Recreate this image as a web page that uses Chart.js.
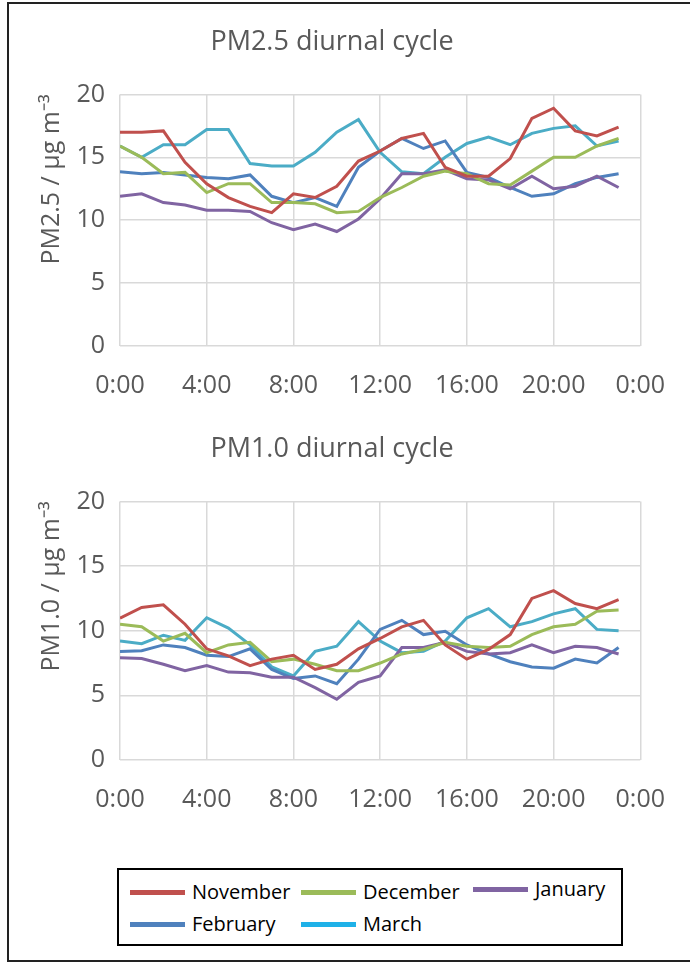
<!DOCTYPE html>
<html><head><meta charset="utf-8">
<script src="https://cdn.jsdelivr.net/npm/chart.js@4.4.1/dist/chart.umd.min.js"></script>
<style>
body{margin:0;background:#fff;width:690px;height:965px;overflow:hidden;position:relative;}
#frame{position:absolute;left:7px;top:2px;width:700px;height:960px;border:2px solid #222;box-sizing:border-box;}
canvas{position:absolute;left:0;}
#c1{top:0}
#c2{top:410px}
#legend{position:absolute;left:117px;top:868px;width:506px;height:78px;border:2px solid #000;box-sizing:border-box;font-family:'Open Sans',sans-serif;font-size:20px;color:#000}
.item{position:absolute;line-height:26px;white-space:nowrap}
.sw{position:absolute;width:55px;height:5px}
</style>
</head><body>
<div id="frame"></div>
<canvas id="c1" width="690" height="410"></canvas>
<canvas id="c2" width="690" height="410"></canvas>
<div id="legend"></div>
<script>
const hours = [0,1,2,3,4,5,6,7,8,9,10,11,12,13,14,15,16,17,18,19,20,21,22,23];
const seriesNames = ['November','December','January','February','March'];
const seriesColors = ['#C0504D','#9BBB59','#8064A2','#4F81BD','#4BACC6'];
const legendColors = ['#C0504D','#9BBB59','#8064A2','#4F81BD','#1FB1E8'];
const xTickStep = 4;
const yTicks = [0,5,10,15,20];

// PM2.5 (µg m-3)
const pm25_nov = [17.0,17.0,17.1,14.6,12.9,11.8,11.1,10.6,12.1,11.8,12.7,14.7,15.5,16.5,16.9,14.2,13.5,13.5,14.9,18.1,18.9,17.1,16.7,17.4];
const pm25_dec = [15.9,15.0,13.7,13.8,12.2,12.9,12.9,11.4,11.4,11.3,10.6,10.7,11.8,12.6,13.5,13.9,13.7,12.9,12.8,13.9,15.0,15.0,15.9,16.5];
const pm25_jan = [11.9,12.1,11.4,11.2,10.8,10.8,10.7,9.8,9.25,9.7,9.1,10.1,11.7,13.7,13.7,14.0,13.3,13.2,12.5,13.5,12.5,12.7,13.5,12.6];
const pm25_feb = [13.85,13.7,13.8,13.6,13.4,13.3,13.6,11.9,11.4,11.8,11.1,14.2,15.5,16.5,15.7,16.3,13.8,13.4,12.6,11.9,12.1,12.9,13.4,13.7];
const pm25_mar = [15.9,15.0,16.0,16.0,17.2,17.2,14.5,14.3,14.3,15.4,17.0,18.0,15.4,13.85,13.7,15.0,16.1,16.6,16.0,16.9,17.3,17.5,15.9,16.3];

// PM1.0 (µg m-3)
const pm10_nov = [10.97,11.8,12.0,10.5,8.6,8.05,7.3,7.8,8.1,7.0,7.4,8.6,9.4,10.3,10.8,8.9,7.8,8.55,9.7,12.5,13.1,12.1,11.7,12.4];
const pm10_dec = [10.5,10.3,9.2,9.8,8.3,8.9,9.1,7.6,7.8,7.4,6.9,6.9,7.5,8.2,8.55,9.1,8.8,8.7,8.8,9.7,10.3,10.5,11.5,11.6];
const pm10_jan = [7.9,7.85,7.4,6.9,7.3,6.8,6.75,6.4,6.4,5.6,4.7,6.0,6.5,8.7,8.7,9.1,8.4,8.2,8.3,8.9,8.3,8.8,8.7,8.2];
const pm10_feb = [8.4,8.45,8.9,8.7,8.1,8.0,8.6,7.0,6.3,6.5,5.9,7.8,10.1,10.8,9.7,9.95,8.9,8.2,7.6,7.2,7.1,7.8,7.5,8.7];
const pm10_mar = [9.2,9.0,9.65,9.25,11.0,10.2,8.9,7.2,6.5,8.4,8.8,10.7,9.2,8.3,8.4,9.2,11.0,11.7,10.3,10.7,11.3,11.7,10.1,10.0];

const grey = '#595959';
const fam = "'Open Sans', sans-serif";

function makeDatasets(arrs){
  return arrs.map((a,i)=>({
    label: seriesNames[i],
    data: hours.map((h,j)=>({x:h,y:a[j]})),
    borderColor: seriesColors[i],
    backgroundColor: seriesColors[i],
    borderWidth: 3,
    pointRadius: 0,
    tension: 0,
    fill: false
  }));
}

function makeChart(id, title, yTitle, arrs, padTop, xH){
  return new Chart(document.getElementById(id), {
    type: 'line',
    data: { datasets: makeDatasets(arrs) },
    options: {
      responsive: false,
      animation: false,
      devicePixelRatio: 1,
      layout: { padding: { left: 20, right: 46, top: padTop, bottom: 0 } },
      plugins: {
        legend: { display: false },
        tooltip: { enabled: false },
        title: {
          display: true, text: title, color: grey,
          font: { family: fam, size: 27, weight: 'normal', lineHeight: 1.2 },
          padding: { top: 19, bottom: 36 }
        }
      },
      scales: {
        x: {
          type: 'linear', min: 0, max: 24,
          ticks: { stepSize: xTickStep, color: grey, font: { family: fam, size: 25 }, padding: 25, maxRotation: 0, autoSkip: false,
                   callback: v => (v % 24) + ':00' },
          grid: { color: '#D9D9D9', lineWidth: 1.5, drawTicks: false },
          border: { display: false },
          afterFit: s => { s.height = xH; }
        },
        y: {
          min: 0, max: 20,
          afterBuildTicks: s => { s.ticks = yTicks.map(v=>({value:v})); },
          ticks: { color: grey, font: { family: fam, size: 25 }, padding: 15 },
          grid: { color: '#D9D9D9', lineWidth: 1.5, drawTicks: false },
          border: { display: false },
          title: { display: true, text: yTitle, align: 'end', color: grey, font: { family: fam, size: 25, lineHeight: 1.2 }, padding: { top: 17, bottom: 0 } },
          afterFit: s => { s.width = 100; }
        }
      }
    }
  });
}

makeChart('c1', 'PM2.5 diurnal cycle', 'PM2.5 / μg m⁻³', [pm25_nov,pm25_dec,pm25_jan,pm25_feb,pm25_mar], 7, 64);
makeChart('c2', 'PM1.0 diurnal cycle', 'PM1.0 / μg m⁻³', [pm10_nov,pm10_dec,pm10_jan,pm10_feb,pm10_mar], 4, 60);

// legend
const lg = document.getElementById('legend');
const pos = [[11,22],[182,22],[354,19],[11,54],[182,54]];
seriesNames.forEach((n,i)=>{
  const sw = document.createElement('div');
  sw.className='sw';
  sw.style.background = legendColors[i];
  sw.style.left = pos[i][0]+'px';
  sw.style.top = (pos[i][1]-2.5)+'px';
  lg.appendChild(sw);
  const t = document.createElement('div');
  t.className='item';
  t.textContent = n;
  t.style.left = (pos[i][0]+62)+'px';
  t.style.top = (pos[i][1]-13)+'px';
  lg.appendChild(t);
});
</script>
</body></html>
